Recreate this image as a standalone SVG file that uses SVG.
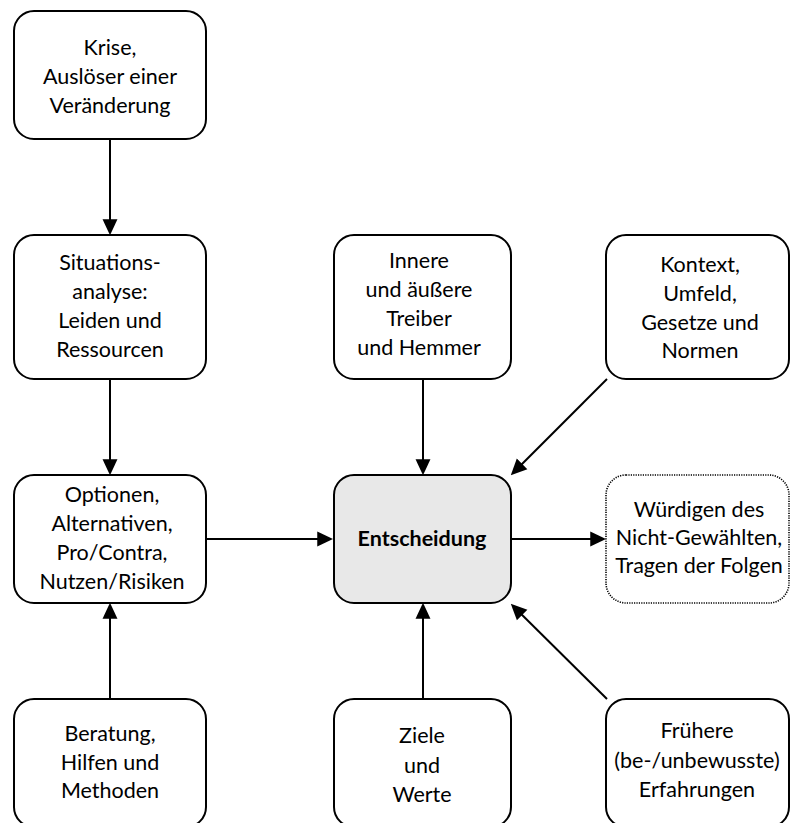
<svg xmlns="http://www.w3.org/2000/svg" width="790" height="823" viewBox="0 0 790 823">
<style>
.box{fill:#fff;stroke:#000;stroke-width:2}
.main{fill:#e8e8e8;stroke:#000;stroke-width:2}
.dot{fill:#fff;stroke:#000;stroke-width:1.6;stroke-dasharray:1.2 1.2}
text{font-family:Lato,"Liberation Sans",sans-serif;font-size:21.5px;fill:#000;text-anchor:middle}
.b{font-weight:bold}
.c{stroke:#000;stroke-width:2;fill:none;marker-end:url(#ah)}
</style>
<defs>
<marker id="ah" markerUnits="userSpaceOnUse" markerWidth="16" markerHeight="16" viewBox="0 0 15 14" refX="11" refY="7" orient="auto">
<path d="M0,0 L15,7 L0,14 z" fill="#000"/>
</marker>
</defs>
<rect width="790" height="823" fill="#fff"/>
<g id="connectors">
<line class="c" x1="110" y1="139" x2="110" y2="231"/>
<line class="c" x1="110" y1="379" x2="110" y2="471"/>
<line class="c" x1="110" y1="699" x2="110" y2="607"/>
<line class="c" x1="206" y1="539" x2="329" y2="539"/>
<line class="c" x1="423" y1="379" x2="423" y2="471"/>
<line class="c" x1="423" y1="699" x2="423" y2="607"/>
<line class="c" x1="511" y1="539" x2="602" y2="539"/>
<line class="c" x1="607" y1="379" x2="513.8" y2="472.2"/>
<line class="c" x1="607" y1="699" x2="513.8" y2="606.8"/>
</g>
<g id="krise">
<rect class="box" x="14" y="11" width="192" height="128" rx="20"/>
<text x="110" y="55">Krise,</text>
<text x="110" y="84">Auslöser einer</text>
<text x="110" y="113">Veränderung</text>
</g>
<g id="situation">
<rect class="box" x="14" y="235" width="192" height="144" rx="20"/>
<text x="110" y="270">Situations-</text>
<text x="110" y="299">analyse:</text>
<text x="110" y="328">Leiden und</text>
<text x="110" y="357">Ressourcen</text>
</g>
<g id="innere">
<rect class="box" x="334" y="235" width="177" height="144" rx="20"/>
<text x="419" y="268">Innere</text>
<text x="419" y="297">und äußere</text>
<text x="419" y="326">Treiber</text>
<text x="419" y="355">und Hemmer</text>
</g>
<g id="kontext">
<rect class="box" x="606" y="235" width="183" height="144" rx="20"/>
<text x="700" y="272">Kontext,</text>
<text x="700" y="301">Umfeld,</text>
<text x="700" y="330">Gesetze und</text>
<text x="700" y="358">Normen</text>
</g>
<g id="optionen">
<rect class="box" x="14" y="475" width="192" height="128" rx="20"/>
<text x="112" y="502">Optionen,</text>
<text x="112" y="531">Alternativen,</text>
<text x="112" y="560">Pro/Contra,</text>
<text x="112" y="589">Nutzen/Risiken</text>
</g>
<g id="entscheidung">
<rect class="main" x="334" y="475" width="177" height="128" rx="20"/>
<text class="b" x="422" y="546">Entscheidung</text>
</g>
<g id="wuerdigen">
<rect class="dot" x="606" y="475" width="183" height="128" rx="20"/>
<text x="699" y="517">Würdigen des</text>
<text x="699" y="545">Nicht-Gewählten,</text>
<text x="699" y="573">Tragen der Folgen</text>
</g>
<g id="beratung">
<rect class="box" x="14" y="699" width="192" height="128" rx="20"/>
<text x="110" y="741">Beratung,</text>
<text x="110" y="770">Hilfen und</text>
<text x="110" y="798">Methoden</text>
</g>
<g id="ziele">
<rect class="box" x="334" y="699" width="177" height="128" rx="20"/>
<text x="422" y="743">Ziele</text>
<text x="422" y="773">und</text>
<text x="422" y="802">Werte</text>
</g>
<g id="frueher">
<rect class="box" x="606" y="699" width="183" height="128" rx="20"/>
<text x="697" y="738">Frühere</text>
<text x="697" y="768">(be-/unbewusste)</text>
<text x="697" y="797">Erfahrungen</text>
</g>
</svg>
